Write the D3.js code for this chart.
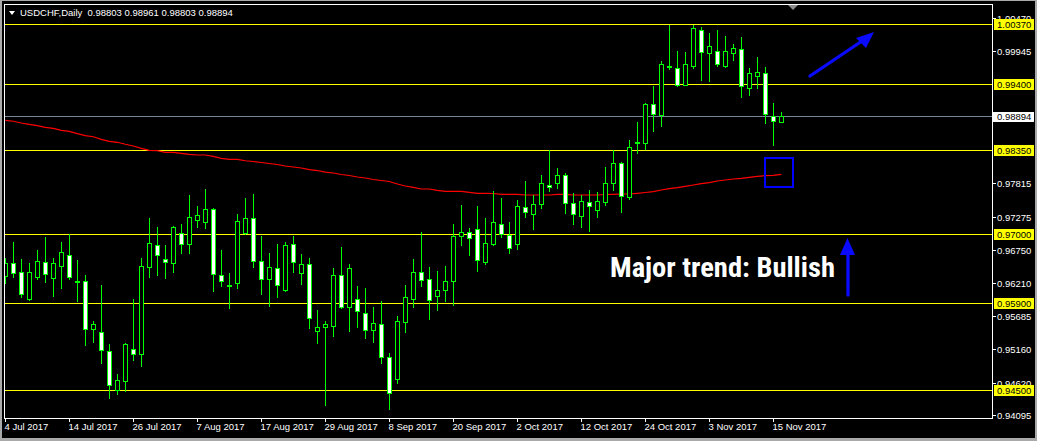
<!DOCTYPE html>
<html><head><meta charset="utf-8">
<script src="https://cdn.jsdelivr.net/npm/d3@7"></script>
<style>html,body{margin:0;padding:0;background:#000;overflow:hidden}</style>
</head><body>
<script>
// ---------- DATA ----------
const symbolTitle = "USDCHF,Daily";
const tickLabels = ["4 Jul 2017","14 Jul 2017","26 Jul 2017","7 Aug 2017","17 Aug 2017","29 Aug 2017","8 Sep 2017","20 Sep 2017","2 Oct 2017","12 Oct 2017","24 Oct 2017","3 Nov 2017","15 Nov 2017"];
const barsPerTick = 8;

const open = [
.96328,.96537,.96392,.95960,.96312,.96553,.96296,.96489,.96665,.96256,
.96248,.95479,.95430,.95125,.94500,.94644,.95157,.95077,.96473,.96826,
.96601,.96537,.97018,.96842,.97226,.97194,.97403,.96344,.96184,.96216,
.97018,.97258,.96569,.96280,.96457,.96104,.96842,.96376,.96521,.95446,
.95510,.95526,.96344,.95831,.95959,.95735,.95462,.95559,.95029,.94676,
.95591,.95959,.96392,.96280,.96008,.96104,.96248,.96970,.97034,.97082,
.96553,.96842,.97162,.96986,.96842,.97435,.97323,.97483,.97788,.97820,
.97948,.97499,.97291,.97515,.97387,.97515,.97820,.98141,.97595,.98470,
.98462,.99087,.98911,.99696,.99664,.99392,.99696,1.00274,.99905,.99937,
.99696,.99905,.99969,.99344,.99536,.99585,.98895,.98803];
const high = [
.96617,.96874,.96601,.96537,.96745,.96954,.96617,.96874,.97002,.96585,
.96344,.95607,.96184,.95238,.94756,.95254,.95959,.96617,.97258,.97114,
.96826,.97130,.97162,.97627,.97451,.97724,.97419,.96745,.96376,.97323,
.97579,.97643,.96970,.96697,.96842,.96874,.96970,.96681,.96617,.95783,
.95607,.96457,.96794,.96521,.96168,.96136,.95831,.95927,.95093,.95687,
.96184,.96601,.97034,.96473,.96408,.96489,.97162,.97467,.97098,.97451,
.97258,.97692,.97579,.97194,.97547,.97852,.97627,.97948,.98349,.98060,
.97980,.97660,.97627,.97708,.97676,.98076,.98349,.98157,.98510,.98798,
.99103,.99376,.99777,1.00354,.99937,.99921,1.00354,1.00322,1.00226,1.00274,
1.00178,1.00049,1.00162,.99664,.99841,.99680,.99103,.98961];
const low = [
.96216,.96312,.95992,.95943,.96280,.96232,.96008,.96136,.96280,.95927,
.95222,.95270,.94933,.94372,.94436,.94484,.94981,.94885,.96312,.96344,
.96296,.96392,.96697,.96697,.97114,.97098,.96088,.96168,.95815,.96136,
.97002,.96473,.96040,.95847,.95992,.96088,.96392,.96200,.95494,.95254,
.94260,.95366,.95815,.95446,.95510,.95334,.95270,.94933,.94195,.94612,
.95430,.95831,.96168,.95639,.95783,.95927,.95863,.96826,.96665,.96408,
.96521,.96826,.96954,.96697,.96761,.97275,.97082,.97419,.97692,.97740,
.97339,.97162,.97114,.97050,.97275,.97467,.97708,.97355,.97563,.98301,
.98365,.98654,.98734,.99648,.99376,.99384,.99664,.99472,.99456,.99696,
.99688,.99793,.99199,.99231,.99344,.98783,.98429,.98803];
const close = [
.96537,.96376,.96040,.96392,.96569,.96360,.96537,.96713,.96312,.96240,
.95479,.95559,.95141,.94580,.94660,.95238,.95077,.96489,.96858,.96665,
.96553,.97114,.96842,.97275,.97307,.97403,.96360,.96248,.96176,.97210,
.97258,.96569,.96280,.96473,.96184,.96826,.96553,.96521,.95655,.95510,
.95559,.96344,.95831,.96457,.95767,.95462,.95575,.95029,.94452,.95607,
.95992,.96392,.96264,.95943,.96104,.96248,.96970,.97034,.96938,.96585,
.96858,.97194,.97002,.96777,.97451,.97355,.97483,.97820,.97756,.97948,
.97499,.97323,.97531,.97451,.97531,.97820,.98141,.97611,.98397,.98462,
.99087,.98927,.99728,.99680,.99392,.99728,1.00306,.99921,1.00017,.99728,
.99937,.99985,.99376,.99585,.99600,.98927,.98815,.98894];
const ma = [
.98826,.98810,.98782,.98761,.98739,.98713,.98697,.98665,.98649,.98611,
.98579,.98562,.98521,.98489,.98473,.98441,.98413,.98376,.98344,.98338,
.98312,.98312,.98296,.98280,.98269,.98269,.98248,.98216,.98200,.98200,
.98177,.98165,.98149,.98133,.98117,.98093,.98077,.98061,.98036,.98020,
.97996,.97980,.97956,.97940,.97916,.97900,.97876,.97860,.97844,.97804,
.97772,.97751,.97724,.97724,.97703,.97687,.97687,.97687,.97671,.97655,
.97655,.97652,.97639,.97639,.97639,.97628,.97628,.97628,.97628,.97639,
.97639,.97628,.97628,.97628,.97628,.97636,.97639,.97644,.97644,.97655,
.97668,.97681,.97708,.97729,.97745,.97767,.97788,.97809,.97825,.97852,
.97868,.97884,.97895,.97911,.97927,.97937,.97943,.97959];
const levels = [1.00370, 0.99400, 0.98350, 0.97000, 0.95900, 0.94500];
const bidPrice = 0.98894;
const priceTicks = [1.00470, 0.99945, 0.97815, 0.97275, 0.96750, 0.96210, 0.95685, 0.95160, 0.94620, 0.94095];
const noteText = "Major trend: Bullish";

// ---------- LAYOUT ----------
const W = 1037, H = 441;
const PL = 4, PT = 4, PR = 992, PB = 418;
const FONT = "'Liberation Sans', Arial, sans-serif";

const svg = d3.select("body").append("svg")
  .attr("width", W).attr("height", H).style("display", "block");

svg.append("rect").attr("width", W).attr("height", H).attr("fill", "#a9a9a9");
svg.append("rect").attr("x", 2).attr("y", 1).attr("width", 1033).attr("height", 437).attr("fill", "#000");

const n = open.length;
const x = d3.scaleLinear().domain([0, n - 1]).range([5.3, 5.3 + 8 * (n - 1)]);
const y = d3.scaleLinear().domain([0.94051, 1.00691]).range([PB, PT]);
const py = v => Math.round(y(v)) + 0.5;

svg.append("defs").append("clipPath").attr("id", "clip")
  .append("rect").attr("x", PL + 1).attr("y", PT + 1).attr("width", PR - PL - 1).attr("height", PB - PT - 1);

const plot = svg.append("g").attr("clip-path", "url(#clip)");

// horizontal levels
plot.selectAll("line.lvl").data(levels).join("line").attr("class", "lvl")
  .attr("x1", PL).attr("x2", PR).attr("y1", py).attr("y2", py)
  .attr("stroke", "#ffff00").attr("stroke-width", 1);
plot.append("line").attr("x1", PL).attr("x2", PR).attr("y1", py(bidPrice)).attr("y2", py(bidPrice))
  .attr("stroke", "#778899").attr("stroke-width", 1);

// moving average
plot.append("path").datum(ma)
  .attr("d", d3.line().x((d, i) => x(i)).y(d => y(d)))
  .attr("fill", "none").attr("stroke", "#ff0000").attr("stroke-width", 1.2);

// candles
const idx = d3.range(n);
const cg = plot.append("g");
idx.forEach(i => {
  const c = Math.round(x(i));
  cg.append("line").attr("x1", c + 0.5).attr("x2", c + 0.5)
    .attr("y1", Math.round(y(high[i]))).attr("y2", Math.round(y(low[i])) + 1)
    .attr("stroke", "#00ff00").attr("stroke-width", 1);
  const top = Math.round(y(Math.max(open[i], close[i])));
  const bot = Math.round(y(Math.min(open[i], close[i])));
  const bear = close[i] < open[i];
  if (bot - top < 1) {
    cg.append("line").attr("x1", c - 2).attr("x2", c + 3).attr("y1", top + 0.5).attr("y2", top + 0.5)
      .attr("stroke", "#00ff00").attr("stroke-width", 1);
  } else {
    cg.append("rect").attr("x", c - 1.5).attr("width", 4)
      .attr("y", top + 0.5).attr("height", bot - top)
      .attr("fill", bear ? "#ffffff" : "#000000")
      .attr("stroke", "#00ff00").attr("stroke-width", 1);
  }
});

// blue rectangle around MA end
const lastI = n - 1;
plot.append("rect")
  .attr("x", Math.round(x(lastI)) - 16).attr("y", Math.round(y(ma[lastI])) - 16)
  .attr("width", 28).attr("height", 29)
  .attr("fill", "none").attr("stroke", "#0000ff").attr("stroke-width", 2);

// annotation text
svg.append("text").attr("x", 610).attr("y", 277)
  .attr("font-family", "'Liberation Sans Narrow','Roboto Condensed','Liberation Sans',Arial,sans-serif")
  .attr("font-weight", "bold").attr("font-size", 27).attr("fill", "#ffffff")
  .attr("textLength", 225).attr("lengthAdjust", "spacingAndGlyphs")
  .text(noteText);

// arrows
const blue = "#0a0aff";
svg.append("line").attr("x1", 810).attr("y1", 76).attr("x2", 862).attr("y2", 41)
  .attr("stroke", blue).attr("stroke-width", 3.3).attr("stroke-linecap", "round");
svg.append("polygon").attr("points", "874,32 856,38 866,48").attr("fill", blue);
svg.append("line").attr("x1", 848).attr("y1", 295).attr("x2", 848).attr("y2", 252)
  .attr("stroke", blue).attr("stroke-width", 3.3).attr("stroke-linecap", "round");
svg.append("polygon").attr("points", "847.5,238 840,255 855,255").attr("fill", blue);

// shift marker
svg.append("polygon").attr("points", "788,5 798,5 793,10").attr("fill", "#8c8c8c");

// frame
svg.append("rect").attr("x", PL + 0.5).attr("y", PT + 0.5).attr("width", PR - PL).attr("height", PB - PT)
  .attr("fill", "none").attr("stroke", "#ffffff").attr("stroke-width", 1);

// header
svg.append("polygon").attr("points", "9,11 15,11 12,15").attr("fill", "#ffffff");
const last = n - 1;
svg.append("text").attr("x", 20).attr("y", 16).attr("font-family", FONT).attr("font-size", 9.5)
  .attr("fill", "#ffffff").attr("xml:space", "preserve")
  .text(symbolTitle + "  " + [open[last], high[last], low[last], close[last]].map(v => v.toFixed(5)).join(" "));

// right price axis
const ax = svg.append("g");
priceTicks.forEach(v => {
  const yy = py(v);
  ax.append("line").attr("x1", PR + 1).attr("x2", PR + 4).attr("y1", yy).attr("y2", yy).attr("stroke", "#ffffff");
  ax.append("text").attr("x", 997).attr("y", yy).attr("dy", "0.36em")
    .attr("font-family", FONT).attr("font-size", 9.5).attr("fill", "#ffffff").text(v.toFixed(5));
});
levels.forEach(v => {
  const yy = Math.round(y(v));
  ax.append("rect").attr("x", 994).attr("y", yy - 5).attr("width", 40).attr("height", 11).attr("fill", "#ffff00");
  ax.append("text").attr("x", 997).attr("y", yy + 0.5).attr("dy", "0.36em")
    .attr("font-family", FONT).attr("font-size", 9.5).attr("fill", "#000000").text(v.toFixed(5));
});
{
  const yy = Math.round(y(bidPrice));
  ax.append("rect").attr("x", 993).attr("y", yy - 4).attr("width", 41).attr("height", 10).attr("fill", "#ffffff");
  ax.append("text").attr("x", 997).attr("y", yy + 0.5).attr("dy", "0.36em")
    .attr("font-family", FONT).attr("font-size", 9.5).attr("fill", "#000000").text(bidPrice.toFixed(5));
}

// bottom time axis
tickLabels.forEach((lab, k) => {
  const xx = Math.round(x(k * barsPerTick)) + 0.5;
  ax.append("line").attr("x1", xx).attr("x2", xx).attr("y1", PB + 1).attr("y2", PB + 4).attr("stroke", "#ffffff");
  ax.append("text").attr("x", xx - 1).attr("y", 430).attr("font-family", FONT).attr("font-size", 9.5)
    .attr("fill", "#ffffff").text(lab);
});
</script>
</body></html>
